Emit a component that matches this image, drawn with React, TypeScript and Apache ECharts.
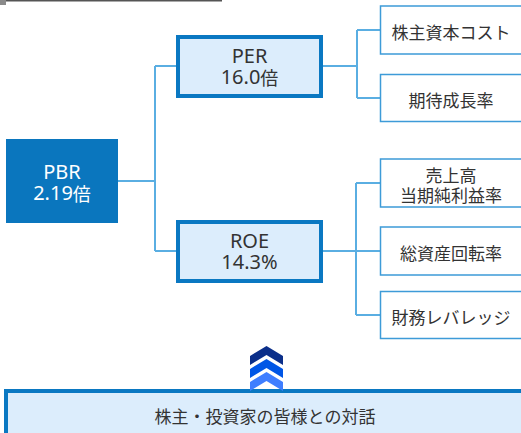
import React, { useEffect, useRef } from "react";
import * as echarts from "echarts";

// ---- data ----
const rootLabel = ["PBR", "2.19倍"];
const midLabels = [
  ["PER", "16.0倍"],
  ["ROE", "14.3%"],
];
const perDrivers = [["株主資本コスト"], ["期待成長率"]];
const roeDrivers = [["売上高", "当期純利益率"], ["総資産回転率"], ["財務レバレッジ"]];
const baseLabel = "株主・投資家の皆様との対話";

// ---- styles ----
const FONT = '"Noto Sans CJK JP", "Noto Sans", sans-serif';
const LATIN = '"Noto Sans", "DejaVu Sans", sans-serif';
const TEXT = "#333333";
const LINE = "#5aaee2";
const THIN_BORDER = "#3d9bd8";
const THICK_BORDER = "#0a78c2";
const LIGHT_FILL = "#dcedfc";
const ROOT_FILL = "#0a76be";
const CHEVRONS = ["#0b2f8a", "#0056e6", "#3f7eff"];

// split a line into latin / cjk runs for rich text
function toRich(s: string) {
  const runs: string[] = [];
  let cur = "";
  let curLatin: boolean | null = null;
  for (const ch of s) {
    const isLatin = ch.charCodeAt(0) < 128;
    if (curLatin === null || isLatin === curLatin) {
      cur += ch;
    } else {
      runs.push(`{${curLatin ? "l" : "c"}|${cur}}`);
      cur = ch;
    }
    curLatin = isLatin;
  }
  if (cur) runs.push(`{${curLatin ? "l" : "c"}|${cur}}`);
  return runs.join("");
}

function richLines(lines: string[], cx: number, cy: number, color: string, gap: number) {
  const n = lines.length;
  return lines.map((ln, i) => ({
    type: "text",
    x: cx,
    y: cy + (i - (n - 1) / 2) * gap,
    style: {
      text: toRich(ln),
      fill: color,
      align: "center",
      verticalAlign: "middle",
      rich: {
        l: { font: `20px ${LATIN}`, fill: color, lineHeight: 20 },
        c: { font: `18px ${FONT}`, fill: color, lineHeight: 20 },
      },
    },
    z: 3,
  }));
}

function plainLines(lines: string[], cx: number, cy: number, gap: number) {
  const n = lines.length;
  return lines.map((ln, i) => ({
    type: "text",
    x: cx,
    y: cy + (i - (n - 1) / 2) * gap,
    style: {
      text: ln,
      fill: TEXT,
      font: `17px ${FONT}`,
      align: "center",
      verticalAlign: "middle",
    },
    z: 3,
  }));
}

function buildGraphic() {
  const els: any[] = [];
  // top rule
  els.push({ type: "rect", shape: { x: 0, y: 0, width: 6, height: 5 }, style: { fill: "#8a8a8a" } });
  els.push({ type: "line", shape: { x1: 6, y1: 0.5, x2: 222, y2: 0.5 }, style: { stroke: "#555555", lineWidth: 2 } });

  const line = (pts: number[][]) => ({
    type: "polyline",
    shape: { points: pts },
    style: { stroke: LINE, lineWidth: 2, fill: null },
    z: 1,
  });

  // root box
  els.push({
    type: "rect",
    shape: { x: 6, y: 139, width: 112, height: 84 },
    style: { fill: ROOT_FILL },
    z: 2,
  });
  els.push(...richLines(rootLabel, 62, 182, "#ffffff", 21));

  // root connectors
  const midY = [66, 251];
  els.push(line([[118, 181], [156, 181]]));
  els.push(line([[155, midY[0]], [155, midY[1]]]));
  midY.forEach((y) => els.push(line([[155, y], [178, y]])));

  // mid boxes
  midLabels.forEach((lab, i) => {
    const y = midY[i];
    els.push({
      type: "rect",
      shape: { x: 178, y: y - 29, width: 143, height: 59 },
      style: { fill: LIGHT_FILL, stroke: THICK_BORDER, lineWidth: 4 },
      z: 2,
    });
    els.push(...richLines(lab, 249.5, y, TEXT, 21));
  });

  // driver groups
  const groups = [
    { labels: perDrivers, fromY: midY[0], vx: 357, ys: [30, 98], hs: [48, 47] },
    { labels: roeDrivers, fromY: midY[1], vx: 356, ys: [183, 251, 315], hs: [48, 48, 47] },
  ];
  groups.forEach((g) => {
    els.push(line([[322, g.fromY], [g.vx, g.fromY]]));
    els.push(line([[g.vx, g.ys[0]], [g.vx, g.ys[g.ys.length - 1]]]));
    g.labels.forEach((lab, j) => {
      const y = g.ys[j];
      els.push(line([[g.vx, y], [380, y]]));
      els.push({
        type: "rect",
        shape: { x: 380.5, y: y - g.hs[j] / 2, width: 150, height: g.hs[j] },
        style: { fill: "#ffffff", stroke: THIN_BORDER, lineWidth: 1.5 },
        z: 2,
      });
      els.push(...plainLines(lab, 451, y + 1, 20));
    });
  });

  // base box
  els.push({
    type: "rect",
    shape: { x: 6, y: 391, width: 530, height: 60 },
    style: { fill: LIGHT_FILL, stroke: THICK_BORDER, lineWidth: 4 },
    z: 2,
  });
  els.push(...plainLines([baseLabel], 265, 415, 20));

  // chevrons
  const cx = 266.5;
  const hw = 16.5;
  [346, 359, 372].forEach((top, k) => {
    els.push({
      type: "polygon",
      shape: {
        points: [
          [cx, top],
          [cx + hw, top + 10],
          [cx + hw, top + 19],
          [cx, top + 9],
          [cx - hw, top + 19],
          [cx - hw, top + 10],
        ],
      },
      style: { fill: CHEVRONS[k] },
      z: 4,
    });
  });

  return els;
}

export default function App() {
  const ref = useRef<HTMLDivElement>(null);
  useEffect(() => {
    if (!ref.current) return;
    const chart = echarts.init(ref.current, undefined, { renderer: "svg" });
    chart.setOption({
      animation: false,
      backgroundColor: "#ffffff",
      graphic: { elements: buildGraphic() },
    });
    return () => chart.dispose();
  }, []);
  return (
    <div
      ref={ref}
      style={{ position: "fixed", left: 0, top: 0, width: 521, height: 433 }}
    />
  );
}
